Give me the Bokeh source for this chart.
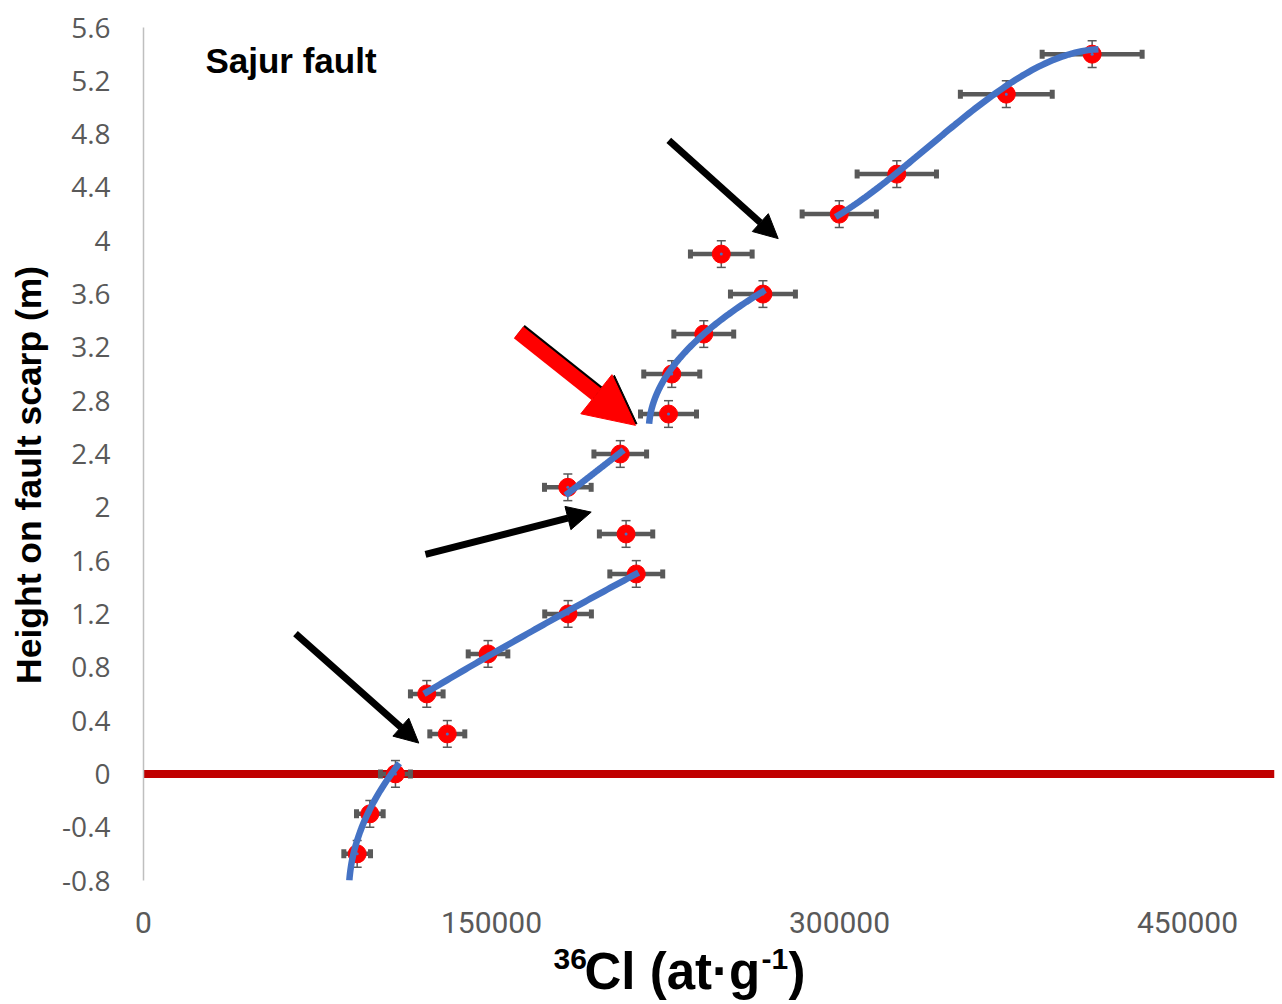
import math
import numpy as np
from bokeh.plotting import figure
from bokeh.layouts import column, row
from bokeh.models import (ColumnDataSource, Whisker, TeeHead, Arrow, NormalHead,
                          Label, Span, Range1d, FixedTicker)
from bokeh.embed import file_html
from bokeh.resources import INLINE

# --- samples: 36Cl concentration (at/g) vs height on the scarp (m) ---
cl36 = [92100, 97560, 108600, 130950, 122100, 148500, 183000, 212400, 208000,
        182900, 205500, 226300, 227700, 241500, 249050, 267000, 299900, 324700,
        371900, 408900]
height = [-0.6, -0.3, 0.0, 0.3, 0.6, 0.9, 1.2, 1.5, 1.8, 2.15, 2.4, 2.7, 3.0,
          3.3, 3.9, 3.6, 4.2, 4.5, 5.1, 5.4]
cl36_err = [5750, 5750, 6460, 7540, 7040, 8540, 10060, 11400, 11500, 10060,
            11350, 12070, 12070, 12900, 13300, 14000, 16000, 17100, 19800, 21550]
height_err = [0.1, 0.1, 0.1, 0.1, 0.1, 0.1, 0.1, 0.1, 0.1, 0.1,
              0.1, 0.1, 0.1, 0.1, 0.1, 0.1, 0.1, 0.1, 0.1, 0.1]

# --- trend segments (anchor nodes along each fitted curve) ---
trend_a_y = [-0.8, -0.6, -0.3, 0.0, 0.08]
trend_a_x = [88700, 90600, 96400, 107300, 110000]
trend_b_y = [0.6, 0.9, 1.2, 1.51]
trend_b_x = [121500, 148300, 182600, 212800]
trend_c_y = [2.09, 2.43]
trend_c_x = [181900, 207000]
trend_d_y = [2.627, 2.83, 3.03, 3.30, 3.48, 3.63]
trend_d_x = [218200, 219950, 227800, 241500, 254400, 268100]
trend_e_x = [298300, 324600, 346500, 366400, 389600, 411600]
trend_e_y = [4.18, 4.5, 4.83, 5.1, 5.33, 5.44]

# --- event arrows (start -> tip) ---
black_arrow_x0 = [65520, 121550, 226420]
black_arrow_y0 = [1.052, 1.647, 4.753]
black_arrow_x1 = [118660, 192970, 273570]
black_arrow_y1 = [0.231, 1.964, 4.016]
red_arrow = (161640, 3.313, 212070, 2.615)

# --- axes ---
x_ticks = [0, 150000, 300000, 450000]
x_tick_labels = ["0", "150000", "300000", "450000"]
y_ticks = [-0.8, -0.4, 0.0, 0.4, 0.8, 1.2, 1.6, 2.0, 2.4, 2.8, 3.2, 3.6, 4.0,
           4.4, 4.8, 5.2, 5.6]
y_tick_labels = ["-0.8", "-0.4", "0", "0.4", "0.8", "1.2", "1.6", "2", "2.4",
                 "2.8", "3.2", "3.6", "4", "4.4", "4.8", "5.2", "5.6"]

GREY = "#595959"
BLUE = "#4472C4"
BOLD = dict(text_font="Liberation Sans", text_font_style="bold", text_color="black")

LEFT_W, MAIN_W, MAIN_H, BOTTOM_H = 50, 1232, 940, 60

p = figure(width=MAIN_W, height=MAIN_H, output_backend="svg", toolbar_location=None,
           x_range=Range1d(0, 487500), y_range=Range1d(-0.8, 5.6),
           min_border_left=93, min_border_right=8, min_border_top=27,
           min_border_bottom=60)
p.outline_line_color = None
p.grid.visible = False
p.background_fill_color = "white"

# x axis: labels only
xa = p.xaxis[0]
xa.ticker = FixedTicker(ticks=x_ticks)
xa.major_label_overrides = {t: s for t, s in zip(x_ticks, x_tick_labels)}
xa.axis_line_color = None
xa.major_tick_line_color = None
xa.minor_tick_line_color = None
xa.major_tick_out = 0
xa.major_tick_in = 0
xa.major_label_standoff = 31
xa.major_label_text_font = "Roboto"
xa.major_label_text_font_size = "30px"
xa.major_label_text_color = GREY

ya = p.yaxis[0]
ya.ticker = FixedTicker(ticks=y_ticks)
ya.major_label_overrides = {t: s for t, s in zip(y_ticks, y_tick_labels)}
ya.axis_line_color = "#BFBFBF"
ya.axis_line_width = 1.5
ya.major_tick_line_color = None
ya.minor_tick_line_color = None
ya.major_tick_out = 0
ya.major_tick_in = 0
ya.major_label_standoff = 33
ya.major_label_text_font = "Open Sans"
ya.major_label_text_font_size = "28px"
ya.major_label_text_color = GREY

# fault plane (surface level)
p.add_layout(Span(location=0, dimension="width", line_color="#C00000",
                  line_width=8, level="underlay"))

src = ColumnDataSource(dict(
    x=cl36, y=height,
    xl=[a - e for a, e in zip(cl36, cl36_err)],
    xu=[a + e for a, e in zip(cl36, cl36_err)],
    yl=[a - e for a, e in zip(height, height_err)],
    yu=[a + e for a, e in zip(height, height_err)],
))

p.add_layout(Whisker(base="y", lower="xl", upper="xu", dimension="width",
                     source=src, line_color=GREY, line_width=4.5,
                     lower_head=TeeHead(size=9, line_width=5, line_color=GREY),
                     upper_head=TeeHead(size=9, line_width=5, line_color=GREY)))
p.add_layout(Whisker(base="x", lower="yl", upper="yu", dimension="height",
                     source=src, line_color=GREY, line_width=1.5,
                     lower_head=TeeHead(size=9, line_width=1.5, line_color=GREY),
                     upper_head=TeeHead(size=9, line_width=1.5, line_color=GREY)))

p.scatter("x", "y", source=src, size=18, fill_color="#FF0000",
          line_color="#FF0000", line_width=1)
p.scatter("x", "y", source=src, size=3, fill_color=BLUE, line_color=None)

# fitted trend segments
def x_of_y(ys, xs, deg):
    c = np.polyfit(ys, xs, deg)
    yy = np.linspace(min(ys), max(ys), 80)
    return np.polyval(c, yy), yy

for ys, xs, deg in [(trend_a_y, trend_a_x, 2), (trend_b_y, trend_b_x, 2),
                    (trend_c_y, trend_c_x, 1), (trend_d_y, trend_d_x, 2)]:
    xx, yy = x_of_y(ys, xs, deg)
    p.line(xx, yy, line_color=BLUE, line_width=6.5, line_cap="butt")

ce = np.polyfit(np.array(trend_e_x) / 1e5, trend_e_y, 3)
ex = np.linspace(min(trend_e_x), max(trend_e_x), 80)
p.line(ex, np.polyval(ce, ex / 1e5), line_color=BLUE, line_width=6.5,
       line_cap="butt")

# arrows
for x0, y0, x1, y1 in zip(black_arrow_x0, black_arrow_y0, black_arrow_x1, black_arrow_y1):
    p.add_layout(Arrow(x_start=x0, y_start=y0, x_end=x1, y_end=y1,
                       line_color="black", line_width=7,
                       end=NormalHead(size=24, fill_color="black",
                                      line_color="black", line_width=1)))
rx0, ry0, rx1, ry1 = red_arrow
p.add_layout(Arrow(x_start=rx0 + 650, y_start=ry0 + 0.011, x_end=rx1 + 650,
                   y_end=ry1 + 0.011, line_color="black", line_width=15,
                   end=NormalHead(size=48, fill_color="black", line_color="black",
                                  line_width=1)))
p.add_layout(Arrow(x_start=rx0, y_start=ry0, x_end=rx1, y_end=ry1,
                   line_color="#FF0000", line_width=15,
                   end=NormalHead(size=50, fill_color="#FF0000",
                                  line_color="#FF0000", line_width=1)))

p.add_layout(Label(x=26700, y=5.353, text="Sajur fault", text_font_size="35px",
                   text_align="left", text_baseline="middle", **BOLD))


def text_strip(w, h):
    """A bare figure whose data units are pixels (y grows downward)."""
    f = figure(width=w, height=h, output_backend="svg", toolbar_location=None,
               x_range=Range1d(0, w), y_range=Range1d(h, 0),
               x_axis_location=None, y_axis_location=None,
               min_border=0)
    f.outline_line_color = None
    f.grid.visible = False
    return f


# vertical axis title
left = text_strip(LEFT_W, MAIN_H)
left.add_layout(Label(x=28, y=493, text="Height on fault scarp (m)",
                      angle=math.pi / 2, text_font_size="35.5px", text_align="center",
                      text_baseline="middle", **BOLD))

# horizontal axis title: 36Cl (at·g-1) with superscripts
bottom = text_strip(LEFT_W + MAIN_W, BOTTOM_H)
bottom.add_layout(Label(x=553, y=18, text="36", text_font_size="30px",
                        text_align="left", text_baseline="middle", **BOLD))
bottom.add_layout(Label(x=584, y=31, text="Cl (at·g", text_font_size="51px",
                        text_align="left", text_baseline="middle", **BOLD))
bottom.add_layout(Label(x=761, y=18, text="-1", text_font_size="30px",
                        text_align="left", text_baseline="middle", **BOLD))
bottom.add_layout(Label(x=788, y=31, text=")", text_font_size="51px",
                        text_align="left", text_baseline="middle", **BOLD))

layout = column(row(left, p, spacing=0), bottom, spacing=0)

open("out.html", "w").write(file_html(layout, INLINE))
